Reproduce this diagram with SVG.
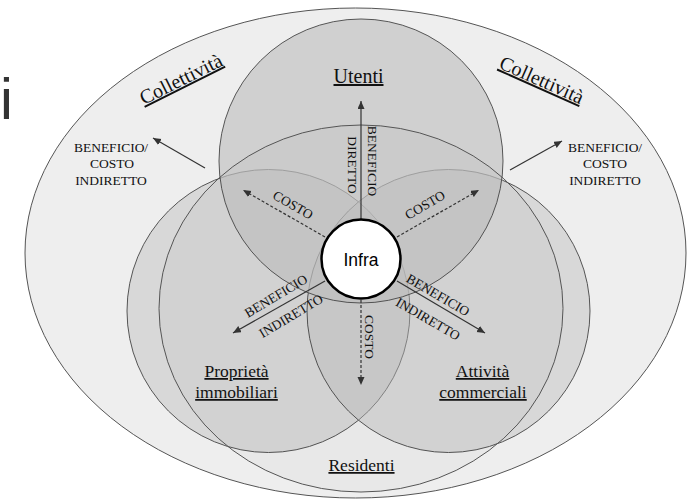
<svg xmlns="http://www.w3.org/2000/svg" width="691" height="501" viewBox="0 0 691 501">
<defs>
<marker id="ah" markerWidth="9" markerHeight="8" refX="8" refY="3.5" orient="auto" markerUnits="userSpaceOnUse"><path d="M0,0 L8,3.5 L0,7 z" fill="#333"/></marker>
<style>
.ring{stroke:#555;stroke-width:1}
.lbl{font-family:"Liberation Serif","Times New Roman",serif;font-size:17.5px;fill:#111;text-anchor:middle;text-decoration:underline}
.big{font-size:20px}
.sm{font-family:"Liberation Serif","Times New Roman",serif;font-size:13.5px;fill:#111;text-anchor:middle}
.arr{stroke:#333;stroke-width:1.2;fill:none;marker-end:url(#ah)}
.dash{stroke-dasharray:3 2}
.venn{fill:#bebebe;fill-opacity:0.46}
</style>
</defs>
<rect width="691" height="501" fill="#ffffff"/>
<text x="0" y="119" font-family="Liberation Sans, Arial, sans-serif" font-size="58" fill="#333">i</text>
<g id="collettivita">
<ellipse cx="355.5" cy="253" rx="330.5" ry="245" fill="#eeeeee" class="ring"/>
</g>
<g id="proprieta"><circle cx="268.5" cy="311" r="141.5" class="venn ring"/></g>
<g id="attivita"><circle cx="448.5" cy="311" r="141.5" class="venn ring"/></g>
<g id="utenti"><circle cx="361" cy="161" r="142" fill="#c3c3c3" fill-opacity="0.7" class="ring"/></g>
<g id="residenti"><ellipse cx="361" cy="308.5" rx="202" ry="183.5" fill="#000" fill-opacity="0.025" class="ring"/></g>
<g id="connectors">
<line x1="361" y1="219" x2="361" y2="101" class="arr"/>
<line x1="325" y1="237" x2="243" y2="190" class="arr dash"/>
<line x1="397" y1="237" x2="479" y2="190" class="arr dash"/>
<line x1="361" y1="300" x2="361" y2="385" class="arr dash"/>
<line x1="325" y1="281" x2="233" y2="333" class="arr"/>
<line x1="397" y1="281" x2="485" y2="333" class="arr"/>
<line x1="205" y1="168" x2="153" y2="138" class="arr"/>
<line x1="510" y1="170" x2="562" y2="141" class="arr"/>
</g>
<g id="infra">
<circle cx="361" cy="259" r="39.5" fill="#ffffff" stroke="#000" stroke-width="2.5"/>
<text x="361" y="265.5" font-family="Liberation Sans, Arial, sans-serif" font-size="17.5" text-anchor="middle" fill="#000">Infra</text>
</g>
<g id="labels">
<text class="lbl big" transform="translate(184,85) rotate(-26.5)">Collettività</text>
<text class="lbl big" transform="translate(539,86) rotate(24)">Collettività</text>
<text class="lbl big" x="358.5" y="83">Utenti</text>
<text class="lbl" x="236.5" y="377">Proprietà</text>
<text class="lbl" x="236.5" y="398">immobiliari</text>
<text class="lbl" x="482.5" y="377">Attività</text>
<text class="lbl" x="483" y="398">commerciali</text>
<text class="lbl" x="361.5" y="471">Residenti</text>
<text class="sm" x="111" y="152">BENEFICIO/</text>
<text class="sm" x="112" y="168">COSTO</text>
<text class="sm" x="111" y="185">INDIRETTO</text>
<text class="sm" x="605" y="152">BENEFICIO/</text>
<text class="sm" x="605" y="168">COSTO</text>
<text class="sm" x="605" y="185">INDIRETTO</text>
<text class="sm" transform="translate(368,161) rotate(90)">BENEFICIO</text>
<text class="sm" transform="translate(348,165) rotate(90)">DIRETTO</text>
<text class="sm" transform="translate(365,337) rotate(90)">COSTO</text>
<text class="sm" transform="translate(293,205) rotate(30)" y="4.5">COSTO</text>
<text class="sm" transform="translate(425,205) rotate(-30)" y="4.5">COSTO</text>
<text class="sm" transform="translate(276,296) rotate(-31)" y="4.5">BENEFICIO</text>
<text class="sm" transform="translate(291,316) rotate(-31)" y="4.5">INDIRETTO</text>
<text class="sm" transform="translate(438,295) rotate(30)" y="4.5">BENEFICIO</text>
<text class="sm" transform="translate(428,319) rotate(30)" y="4.5">INDIRETTO</text>
</g>
</svg>
